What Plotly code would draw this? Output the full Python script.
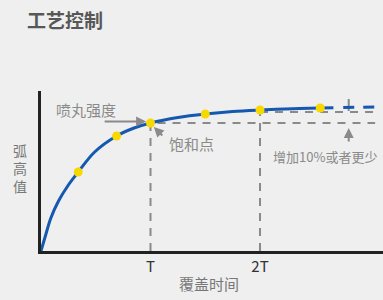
import plotly.graph_objects as go

# Arc height response over coverage time (time in units of T)
curve_t = [0, 0.04, 0.09, 0.16, 0.25, 0.34, 0.49, 0.69, 0.85, 1.0, 1.25, 1.5, 1.75, 2.0, 2.3, 2.55, 2.67]
curve_h = [0, 15, 33, 50, 66, 79, 99, 115, 123, 128, 133.5, 137, 139.5, 141, 142.3, 143, 143.3]
tail_t = [2.76, 3.05]
tail_h = [143.5, 144]
dot_t = [0.34, 0.69, 1.0, 1.5, 2.0, 2.55]
dot_h = [79, 115, 128, 137, 141, 143]
saturation_level = 128
double_time_level = 139
tick_vals = [1, 2]
tick_text = ["T", "2T"]

FONT = "Noto Sans CJK SC"
GRAY = "#8a8a8a"
BLUE = "#1558b0"
YELLOW = "#f7d900"
DASH = "8px,7px"
X_END = 3.123

fig = go.Figure()

# reference levels: saturation (T) and 2T
fig.add_trace(go.Scatter(x=[1, 1, X_END * 0.977], y=[0, saturation_level, saturation_level],
                         mode="lines", line=dict(color=GRAY, width=2, dash=DASH),
                         hoverinfo="skip", showlegend=False))
fig.add_trace(go.Scatter(x=[2, 2], y=[0, dot_h[4]], mode="lines",
                         line=dict(color=GRAY, width=2, dash=DASH),
                         hoverinfo="skip", showlegend=False))
fig.add_trace(go.Scatter(x=[2, X_END * 0.977], y=[double_time_level, double_time_level],
                         mode="lines", line=dict(color=GRAY, width=2, dash=DASH),
                         hoverinfo="skip", showlegend=False))
# small marker tick on the 10% gap
fig.add_trace(go.Scatter(x=[2.81, 2.81], y=[140, 152], mode="lines",
                         line=dict(color=GRAY, width=2),
                         hoverinfo="skip", showlegend=False))

# response curve
fig.add_trace(go.Scatter(x=curve_t, y=curve_h, mode="lines",
                         line=dict(color=BLUE, width=3, shape="spline", smoothing=1.0),
                         hoverinfo="skip", showlegend=False))
fig.add_trace(go.Scatter(x=tail_t, y=tail_h, mode="lines",
                         line=dict(color=BLUE, width=3, dash="11px,9px"),
                         hoverinfo="skip", showlegend=False))
fig.add_trace(go.Scatter(x=dot_t, y=dot_h, mode="markers",
                         marker=dict(color=YELLOW, size=9, line=dict(width=0)),
                         hoverinfo="skip", showlegend=False))

annotations = [
    dict(text="<b>工艺控制</b>", xref="paper", yref="paper", x=-0.048, y=1.0 + 71 / 160,
         xanchor="left", yanchor="middle", showarrow=False,
         font=dict(family=FONT, size=19, color="#575757")),
    dict(text="弧<br>高<br>值", xref="paper", yref="paper", x=-0.06, y=0.52,
         xanchor="center", yanchor="middle", showarrow=False, align="center",
         font=dict(family=FONT, size=14, color="#777777")),
    dict(text="覆盖时间", xref="paper", yref="paper", x=0.49, y=-32 / 160,
         xanchor="center", yanchor="middle", showarrow=False,
         font=dict(family=FONT, size=15, color="#777777")),
    dict(text="喷丸强度", xref="x", yref="y", x=0.12, y=142,
         xanchor="left", yanchor="middle", showarrow=False,
         font=dict(family=FONT, size=15, color=GRAY)),
    dict(text="饱和点", xref="x", yref="y", x=1.15, y=108,
         xanchor="left", yanchor="middle", showarrow=False,
         font=dict(family=FONT, size=15, color=GRAY)),
    dict(text="增加10%或者更少", xref="x", yref="y", x=2.10, y=95,
         xanchor="left", yanchor="middle", showarrow=False,
         font=dict(family=FONT, size=13, color=GRAY)),
    # arrows
    dict(x=0.96, y=129.5, xref="x", yref="y", ax=-43, ay=0, axref="pixel", ayref="pixel",
         text="", showarrow=True, arrowhead=2, arrowsize=1, arrowwidth=2, arrowcolor=GRAY),
    dict(x=1.03, y=124, xref="x", yref="y", ax=10, ay=10, axref="pixel", ayref="pixel",
         text="", showarrow=True, arrowhead=2, arrowsize=1, arrowwidth=2, arrowcolor=GRAY),
    dict(x=2.81, y=123, xref="x", yref="y", ax=0, ay=15, axref="pixel", ayref="pixel",
         text="", showarrow=True, arrowhead=2, arrowsize=1, arrowwidth=2, arrowcolor=GRAY),
]

fig.update_layout(
    width=383, height=300,
    margin=dict(l=41, r=0, t=91, b=49),
    paper_bgcolor="#eeefee", plot_bgcolor="#eeefee",
    annotations=annotations,
    xaxis=dict(range=[0, X_END], showgrid=False, zeroline=False,
               showline=True, linecolor="#222222", linewidth=3,
               tickvals=tick_vals, ticktext=tick_text, ticks="",
               tickfont=dict(family=FONT, size=15, color="#333333"),
               fixedrange=True),
    yaxis=dict(range=[0, 160], showgrid=False, zeroline=False,
               showline=True, linecolor="#222222", linewidth=3,
               showticklabels=False, ticks="", fixedrange=True),
)

fig.write_html("out.html")
